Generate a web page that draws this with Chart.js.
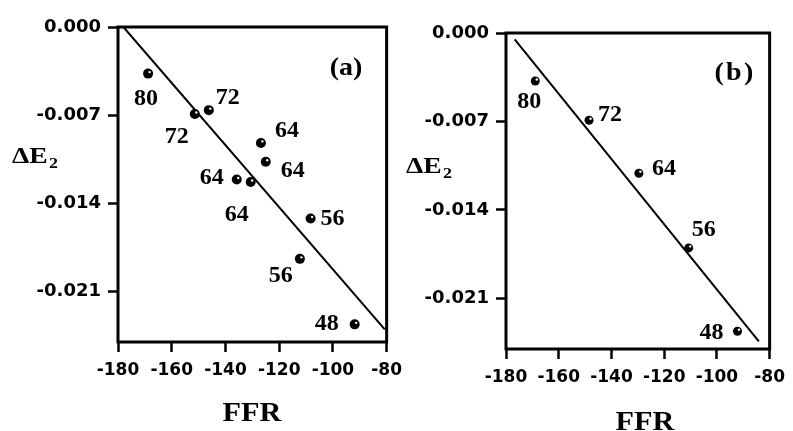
<!DOCTYPE html>
<html lang="en">
<head>
<meta charset="UTF-8" />
<title>ΔE2 vs FFR</title>
<script src="https://cdn.jsdelivr.net/npm/chart.js"></script>
<style>
  body {
    margin: 0;
    background: #fff;
    width: 793px;
    height: 431px;
    position: relative;
    overflow: hidden;
    font-family: "Liberation Serif", serif;
  }
  canvas { position: absolute; top: 0; }
  .txt {
    position: absolute;
    font-weight: bold;
    color: #000;
    white-space: nowrap;
    line-height: 1;
  }
  .ctr { transform: translate(-50%, -50%) scaleX(1.12); }
  .lft { transform-origin: left center; transform: translateY(-50%) scaleX(1.2); }
  .lft sub { font-size: 15px; vertical-align: -5px; margin-left: 1px; }
</style>
</head>
<body>
  <canvas id="chartA" width="410" height="431" style="left:0"></canvas>
  <canvas id="chartB" width="393" height="431" style="left:400px"></canvas>

  <div class="txt lft" style="left:12px;top:157px;font-size:23px">ΔE<sub>2</sub></div>
  <div class="txt lft" style="left:406px;top:167px;font-size:23px">ΔE<sub>2</sub></div>
  <div class="txt ctr" style="left:252px;top:412px;font-size:27px">FFR</div>
  <div class="txt ctr" style="left:645px;top:421px;font-size:27px">FFR</div>
  <div class="txt ctr" style="left:346px;top:66px;font-size:25px">(a)</div>
  <div class="txt ctr" style="left:735px;top:71px;font-size:25px;letter-spacing:2px">(b)</div>

<script>
  // axis ticks
  const ffrTicks = [-180, -160, -140, -120, -100, -80];
  const deTicks = [0, -0.007, -0.014, -0.021];

  // panel (a)
  const ffrA = [-168.8, -146.2, -151.4, -126.8, -125.0, -135.8, -130.6, -108.3, -112.3, -91.9];
  const deA = [-0.0037, -0.0066, -0.0069, -0.0092, -0.0107, -0.0121, -0.0123, -0.0152, -0.0184, -0.0236];
  const labelsA = ['80', '72', '72', '64', '64', '64', '64', '56', '56', '48'];
  const fitA_x = [-178, -80.7];
  const fitA_y = [0, -0.024];

  // panel (b)
  const ffrB = [-168.9, -148.5, -129.6, -110.7, -92.2];
  const deB = [-0.0038, -0.0069, -0.0111, -0.0170, -0.0236];
  const labelsB = ['80', '72', '64', '56', '48'];
  const fitB_x = [-176.7, -84.1];
  const fitB_y = [-0.0005, -0.0244];

  // where each number sits next to its dot (px)
  const offA = [[-2, 25], [19, -12], [-18, 23], [26, -12], [27, 9], [-25, -2], [-14, 33], [22, 0], [-19, 17], [-28, -1]];
  const offB = [[-6, 21], [21, -5], [25, -5], [15, -18], [-26, 1]];

  Chart.defaults.color = '#000';

  const frameAndLabels = {
    id: 'frameAndLabels',
    afterDatasetsDraw(chart, args, opts) {
      const { ctx, chartArea: a } = chart;
      ctx.save();
      ctx.strokeStyle = '#000';
      ctx.lineWidth = 3;
      ctx.strokeRect(a.left, a.top, a.right - a.left, a.bottom - a.top);

      const meta = chart.getDatasetMeta(1);
      ctx.font = 'bold 24px "Liberation Serif"';
      ctx.textAlign = 'center';
      ctx.textBaseline = 'middle';
      meta.data.forEach((pt, i) => {
        // small highlight on the ball
        ctx.fillStyle = '#fff';
        ctx.beginPath();
        ctx.arc(pt.x + 1.5, pt.y - 1.5, 1.2, 0, Math.PI * 2);
        ctx.fill();
        ctx.fillStyle = '#000';
        const o = opts.offsets[i];
        ctx.fillText(opts.labels[i], pt.x + o[0], pt.y + o[1]);
      });
      ctx.restore();
    }
  };

  function makeChart(id, xs, ys, fitX, fitY, labels, offsets, yWidth, xHeight, padTop, padRight, radius) {
    new Chart(document.getElementById(id), {
      type: 'scatter',
      data: {
        datasets: [
          {
            data: fitX.map((x, i) => ({ x: x, y: fitY[i] })),
            showLine: true,
            borderColor: '#000',
            borderWidth: 2,
            pointRadius: 0
          },
          {
            data: xs.map((x, i) => ({ x: x, y: ys[i] })),
            backgroundColor: '#000',
            borderWidth: 0,
            pointRadius: radius
          }
        ]
      },
      options: {
        responsive: false,
        animation: false,
        layout: { padding: { top: padTop, right: padRight, left: 0, bottom: 0 } },
        plugins: {
          legend: { display: false },
          tooltip: { enabled: false },
          frameAndLabels: { labels: labels, offsets: offsets }
        },
        scales: {
          x: {
            type: 'linear',
            min: -180,
            max: -80,
            afterBuildTicks: s => { s.ticks = ffrTicks.map(v => ({ value: v })); },
            afterFit: s => { s.height = xHeight; },
            border: { display: false },
            grid: { drawOnChartArea: false, drawTicks: true, tickLength: 10, tickWidth: 2.5, tickColor: '#000' },
            ticks: {
              autoSkip: false,
              maxRotation: 0,
              padding: 8,
              color: '#000',
              font: { family: 'DejaVu Sans', weight: 'bold', size: 17 }
            }
          },
          y: {
            type: 'linear',
            min: -0.025,
            max: 0,
            afterBuildTicks: s => { s.ticks = deTicks.map(v => ({ value: v })); },
            afterFit: s => { s.width = yWidth; },
            border: { display: false },
            grid: { drawOnChartArea: false, drawTicks: true, tickLength: 10, tickWidth: 2.5, tickColor: '#000' },
            ticks: {
              autoSkip: false,
              padding: 7,
              color: '#000',
              font: { family: 'DejaVu Sans', weight: 'bold', size: 18 },
              callback: v => v.toFixed(3)
            }
          }
        }
      },
      plugins: [frameAndLabels]
    });
  }

  makeChart('chartA', ffrA, deA, fitA_x, fitA_y, labelsA, offA, 118, 89, 27, 23, 5);
  makeChart('chartB', ffrB, deB, fitB_x, fitB_y, labelsB, offB, 106, 82, 33, 17, 4.5);
</script>
</body>
</html>
